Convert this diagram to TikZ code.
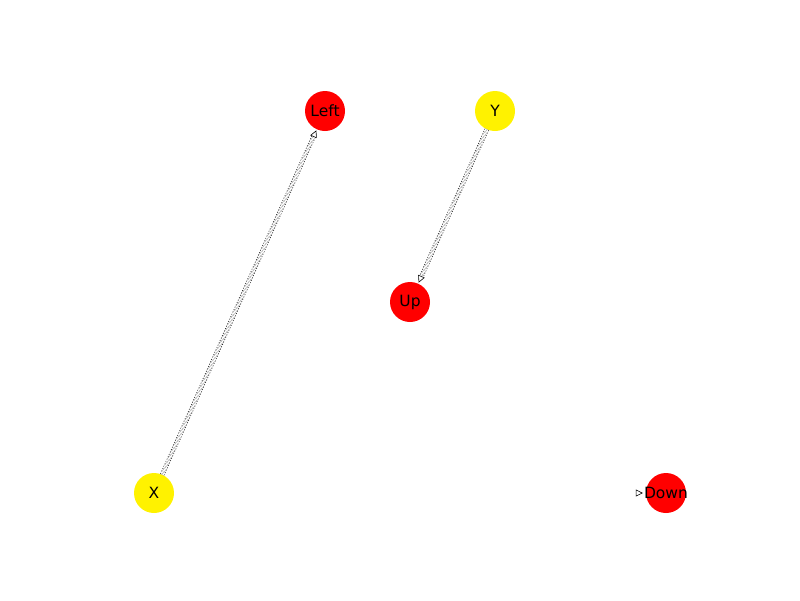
\documentclass[tikz,border=0pt]{standalone}
\usepackage{fontspec}
\setmainfont{DejaVu Sans}
\usetikzlibrary{arrows.meta}
\begin{document}
\begin{tikzpicture}[x=1pt,y=-1pt,
  vnode/.style={circle,minimum size=40pt,inner sep=-8pt,font=\fontsize{15.5pt}{18pt}\selectfont},
  rednode/.style={vnode,fill=red},
  yelnode/.style={vnode,fill=yellow},
  link/.style={draw=black,double=white,double distance=3.2pt,line width=0.6pt,
    dash pattern=on 1pt off 1.6pt,
    -{Triangle[open,length=7pt,width=7pt,line width=0.6pt]},shorten >=1pt},
  ghostlink/.style={draw=white,line width=0.5pt,
    -{Triangle[open,length=7pt,width=7pt,line width=0.6pt,color=black]},shorten >=3pt}]
\useasboundingbox (0,0) rectangle (800,600);
\node[rednode] (left) at (325,111) {Left};
\node[yelnode] (y) at (495,111) {Y};
\node[rednode] (up) at (410,302) {Up};
\node[yelnode] (x) at (154,493) {X};
\node[rednode] (down) at (666,493) {Down};
\draw[link] (x) -- (left);
\draw[link] (y) -- (up);
\draw[ghostlink] (x) -- (down);
\end{tikzpicture}
\end{document}
